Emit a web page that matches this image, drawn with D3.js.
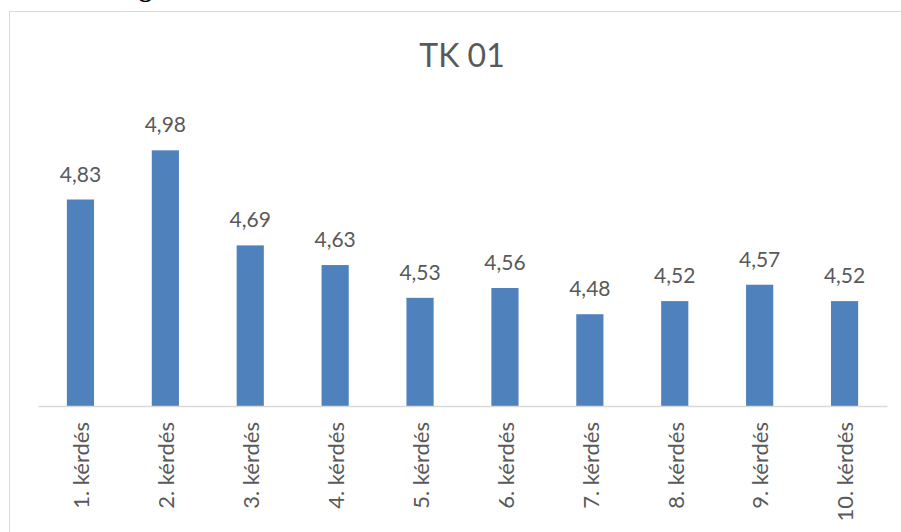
<!DOCTYPE html>
<html>
<head>
<meta charset="utf-8">
<title>TK 01</title>
<style>
  body { margin: 0; background: #fff; }
  text { font-family: Lato, "Open Sans", sans-serif; fill: #595959; }
</style>
</head>
<body>
<svg width="901" height="532"></svg>
<script src="https://d3js.org/d3.v7.min.js"></script>
<script>

    var categories = ["1. kérdés", "2. kérdés", "3. kérdés", "4. kérdés", "5. kérdés",
                      "6. kérdés", "7. kérdés", "8. kérdés", "9. kérdés", "10. kérdés"];
    var values = [4.83, 4.98, 4.69, 4.63, 4.53, 4.56, 4.48, 4.52, 4.57, 4.52];
    var chartTitle = "TK 01";

    var svg = d3.select("svg"),
        margin = { top: 111, right: 14, bottom: 126, left: 38 },
        width = +svg.attr("width") - margin.left - margin.right,
        height = +svg.attr("height") - margin.top - margin.bottom;

    // bottom of a heading that sits above the chart (cut off in the picture)
    svg.append("text")
        .attr("x", 139)
        .attr("y", -3)
        .style("font-family", "'Liberation Serif', serif")
        .style("font-weight", "bold")
        .style("font-size", "26px")
        .style("fill", "#000")
        .text("g");

    // chart frame
    svg.append("rect")
        .attr("x", 9.5)
        .attr("y", 11.5)
        .attr("width", 910)
        .attr("height", 560)
        .attr("fill", "none")
        .attr("stroke", "#d9d9d9")
        .attr("stroke-width", 1);

    svg.append("text")
        .attr("x", 462)
        .attr("y", 67)
        .attr("text-anchor", "middle")
        .style("font-size", "32px")
        .text(chartTitle);

    var g = svg.append("g").attr("transform", "translate(" + margin.left + "," + margin.top + ")");

    var x = d3.scaleBand()
        .domain(categories)
        .range([0, width])
        .paddingInner(0.68)
        .paddingOuter(0.34);

    var y = d3.scaleLinear()
        .domain([4.2, 5.1])
        .range([height, 0]);

    g.selectAll(".bar")
        .data(values)
        .enter().append("rect")
        .attr("class", "bar")
        .attr("x", function (d, i) { return x(categories[i]); })
        .attr("width", x.bandwidth())
        .attr("y", function (d) { return y(d); })
        .attr("height", function (d) { return height - y(d); })
        .attr("fill", "#4f81bd");

    g.selectAll(".lbl")
        .data(values)
        .enter().append("text")
        .attr("class", "lbl")
        .attr("x", function (d, i) { return x(categories[i]) + x.bandwidth() / 2; })
        .attr("y", function (d) { return y(d) - 18; })
        .attr("text-anchor", "middle")
        .style("font-size", "21px")
        .text(function (d) { return d3.format(".2f")(d).replace(".", ","); });

    var xAxis = g.append("g")
        .attr("transform", "translate(0," + height + ")")
        .call(d3.axisBottom(x).tickSize(0).tickPadding(0));

    xAxis.select(".domain").attr("stroke", "#d9d9d9").attr("stroke-width", 1.5);
    xAxis.selectAll("text")
        .attr("y", 0)
        .attr("dy", "0.4em")
        .attr("text-anchor", "end")
        .attr("transform", "translate(0,16) rotate(-90)")
        .style("font-size", "22px")
        .style("font-family", "Lato, 'Open Sans', sans-serif")
        .attr("fill", "#595959");

</script>
</body>
</html>
